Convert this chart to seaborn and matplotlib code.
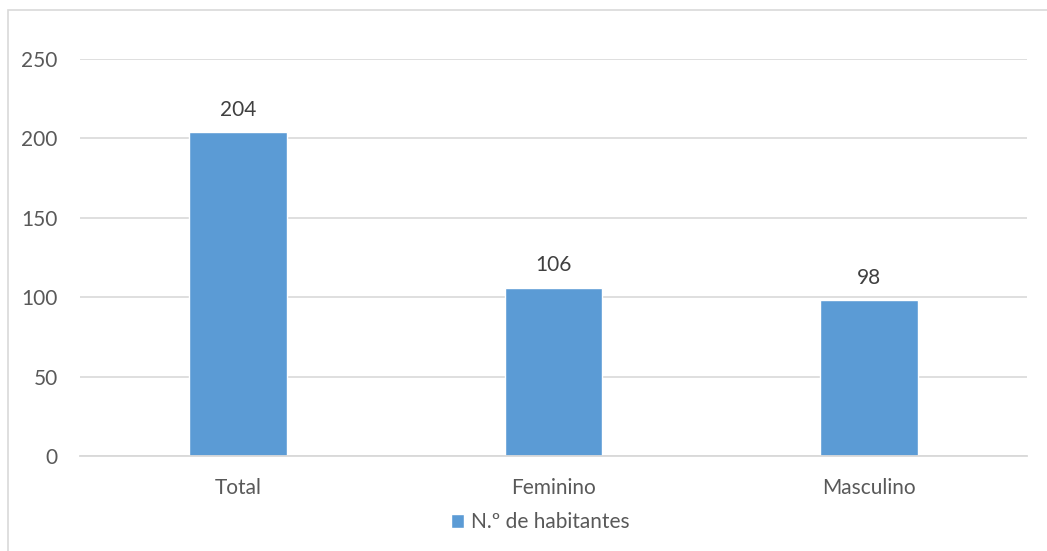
import matplotlib
matplotlib.use("Agg")
import matplotlib.pyplot as plt
import seaborn as sns
from matplotlib.patches import Rectangle

# Datos del gráfico
categorias = ["Total", "Feminino", "Masculino"]
habitantes = [204, 106, 98]
serie = "N.º de habitantes"

sns.set_style("white")
plt.rcParams["font.family"] = ["Lato", "DejaVu Sans"]

fig = plt.figure(figsize=(10.47, 5.51), dpi=100)
ax = fig.add_axes([80 / 1047, 95 / 551, 947 / 1047, 397 / 551])

sns.barplot(x=categorias, y=habitantes, color="#5B9BD5", saturation=1,
            width=0.31, label=serie, ax=ax)
if ax.get_legend() is not None:
    ax.get_legend().remove()

ax.set_ylim(0, 250)
ax.set_xlim(-0.5, 2.5)
ax.set_yticks(range(0, 251, 50))
ax.yaxis.grid(True, color="#D9D9D9", linewidth=1.2)
ax.set_axisbelow(True)
for lado in ["top", "right", "left"]:
    ax.spines[lado].set_visible(False)
ax.spines["bottom"].set_color("#D9D9D9")
ax.spines["bottom"].set_linewidth(1.3)
ax.tick_params(axis="x", length=0, pad=16, labelsize=15, labelcolor="#595959")
ax.tick_params(axis="y", length=0, pad=16, labelsize=15, labelcolor="#595959")
ax.set_xlabel("")
ax.set_ylabel("")

ax.bar_label(ax.containers[0], padding=9, fontsize=15, color="#404040")

fig.legend(loc="center", bbox_to_anchor=(540 / 1047, 1 - 522 / 551), frameon=False,
           fontsize=15, labelcolor="#595959", handlelength=0.65, handleheight=0.65,
           handletextpad=0.3)

# Borde del área del gráfico
fig.patches.append(Rectangle((8 / 1047, -0.1), 1.1, 1 - 10 / 551 + 0.1,
                             transform=fig.transFigure, fill=False,
                             edgecolor="#D9D9D9", linewidth=1.2))

fig.savefig("out.png", dpi=100)
